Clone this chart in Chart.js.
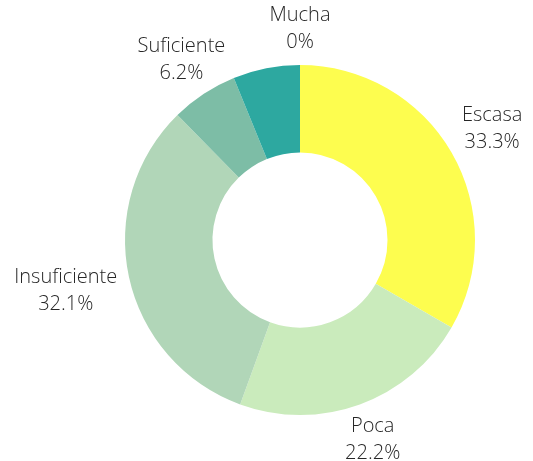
<!DOCTYPE html>
<html>
<head>
<meta charset="utf-8">
<script src="https://cdn.jsdelivr.net/npm/chart.js@4"></script>
<style>
  html, body { margin: 0; padding: 0; background: #fff; }
  #wrap { width: 533px; height: 461px; }
</style>
</head>
<body>
<div id="wrap"><canvas id="chart" width="533" height="461"></canvas></div>
<script>
// categories (the 5th slice has its label hidden in the original)
const categories = ["Escasa", "Poca", "Insuficiente", "Suficiente", "", "Mucha"];
const counts = [27, 18, 26, 5, 5, 0];
const colors = ["#FDFD4F", "#CAEBBC", "#B1D6B8", "#7DBDA6", "#2DA8A0", "#1F8A8A"];

const total = counts.reduce((a, b) => a + b, 0);
const pctText = v => (v === 0 ? "0%" : (v / total * 100).toFixed(1) + "%");

// draws "name\npercent" outside each slice
const outsideLabels = {
  id: "outsideLabels",
  afterDatasetsDraw(chart) {
    const ctx = chart.ctx;
    const meta = chart.getDatasetMeta(0);
    ctx.save();
    ctx.font = "300 20px 'Open Sans'";
    ctx.fillStyle = "#262626";
    ctx.textAlign = "center";
    ctx.textBaseline = "middle";
    const lineH = 27;
    meta.data.forEach((arc, i) => {
      if (!categories[i]) return;
      const p = arc.getProps(["x", "y", "startAngle", "endAngle", "outerRadius"], true);
      const mid = (p.startAngle + p.endAngle) / 2;
      const ux = Math.cos(mid), uy = Math.sin(mid);
      const lines = [categories[i], pctText(counts[i])];
      const w = Math.max(...lines.map(t => ctx.measureText(t).width));
      const h = lineH * lines.length - 6;
      const ex = Math.abs(ux) > 1e-6 ? (w / 2) / Math.abs(ux) : Infinity;
      const ey = Math.abs(uy) > 1e-6 ? (h / 2) / Math.abs(uy) : Infinity;
      const d = p.outerRadius + 12 + Math.min(ex, ey);
      const cx = p.x + ux * d, cy = p.y + uy * d;
      lines.forEach((t, k) => {
        ctx.fillText(t, cx, cy + (k - (lines.length - 1) / 2) * lineH);
      });
    });
    ctx.restore();
  }
};

new Chart(document.getElementById("chart").getContext("2d"), {
  type: "doughnut",
  data: {
    labels: categories,
    datasets: [{
      data: counts,
      backgroundColor: colors,
      borderWidth: 0
    }]
  },
  options: {
    responsive: false,
    animation: false,
    cutout: "50%",
    layout: { padding: { left: 125, right: 58, top: 65, bottom: 46 } },
    plugins: {
      legend: { display: false },
      tooltip: { enabled: false }
    }
  },
  plugins: [outsideLabels]
});
</script>
</body>
</html>
